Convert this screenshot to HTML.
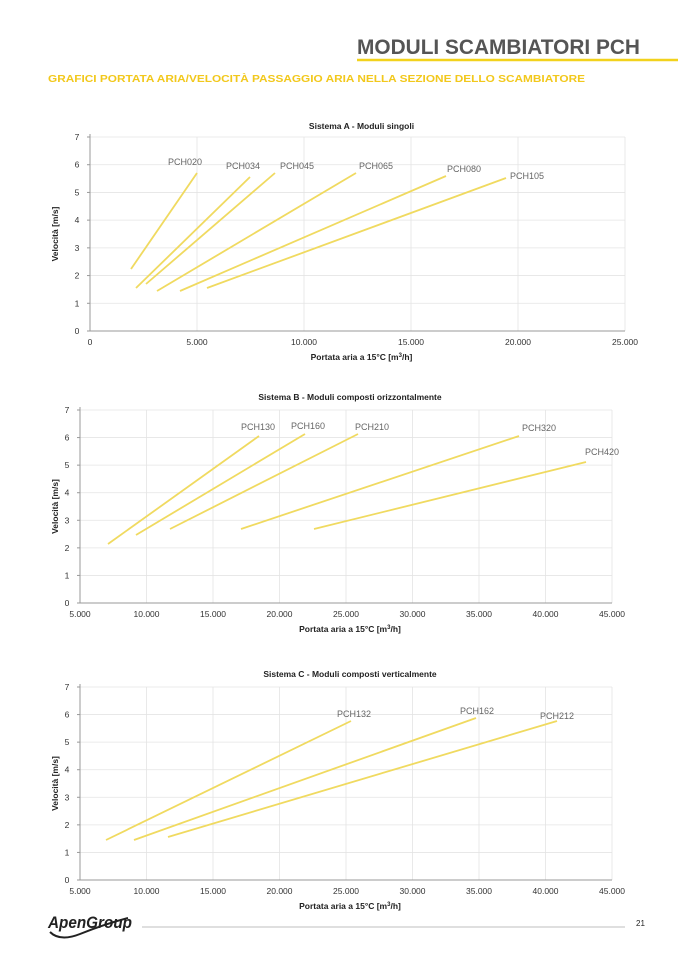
<!DOCTYPE html>
<html><head><meta charset="utf-8"><style>
html,body{margin:0;padding:0;background:#fff}
body{width:678px;height:959px;overflow:hidden}
svg{display:block;font-family:"Liberation Sans",sans-serif}
</style></head><body>
<svg id="s" width="678" height="959" viewBox="0 0 678 959" xmlns="http://www.w3.org/2000/svg">
<text x="640" y="54" text-anchor="end" font-size="21" font-weight="bold" fill="#555" textLength="283" lengthAdjust="spacingAndGlyphs">MODULI SCAMBIATORI PCH</text>
<line x1="357" y1="60" x2="678" y2="60" stroke="#f2d21c" stroke-width="2.5"/>
<text x="48" y="82" font-size="10.5" font-weight="bold" fill="#f2c81c" textLength="537" lengthAdjust="spacingAndGlyphs">GRAFICI PORTATA ARIA/VELOCITÀ PASSAGGIO ARIA NELLA SEZIONE DELLO SCAMBIATORE</text>
<text x="48" y="928" font-size="17" font-weight="bold" fill="#222" font-style="italic" textLength="84" lengthAdjust="spacingAndGlyphs">ApenGroup</text>
<path d="M50 932 Q60 942 80 934 Q105 924 128 918" stroke="#222" stroke-width="2" fill="none"/>
<line x1="142" y1="927" x2="625" y2="927" stroke="#aaa" stroke-width="0.8"/>
<text x="636" y="926" font-size="8" fill="#222">21</text>
</svg>
<script>
const s=document.getElementById('s');const NS='http://www.w3.org/2000/svg';
function el(t,a,txt){const e=document.createElementNS(NS,t);for(const k in a)e.setAttribute(k,a[k]);if(txt!==undefined)e.textContent=txt;s.appendChild(e);return e;}
function chart(o){
 const {x0,x1,y0,y7,xt,title,ty,lines,labels}=o;
 const n=xt.length-1;
 for(let i=1;i<=7;i++){const y=y0-(y0-y7)*i/7;el('line',{x1:x0,x2:x1,y1:y,y2:y,stroke:'#e4e4e4','stroke-width':0.8});}
 for(let i=1;i<=n;i++){const x=x0+(x1-x0)*i/n;el('line',{x1:x,x2:x,y1:y7,y2:y0,stroke:'#e4e4e4','stroke-width':0.8});}
 el('line',{x1:x0,x2:x0,y1:y7-3,y2:y0,stroke:'#999','stroke-width':1});
 el('line',{x1:x0,x2:x1,y1:y0,y2:y0,stroke:'#999','stroke-width':1});
 for(let i=0;i<=7;i++){const y=y0-(y0-y7)*i/7;el('line',{x1:x0-3,x2:x0,y1:y,y2:y,stroke:'#999'});el('text',{x:x0-13,y:y+3,'font-size':8.5,fill:'#333','text-anchor':'middle'},String(i));}
 xt.forEach((t,i)=>{const x=x0+(x1-x0)*i/n;el('text',{x:x,y:y0+14,'font-size':8.5,fill:'#333','text-anchor':'middle'},t);});
 el('text',{x:(x0+x1)/2+4,y:ty,'font-size':8.5,'font-weight':'bold',fill:'#222','text-anchor':'middle'},title);
 const xlab=el('text',{x:(x0+x1)/2+4,y:y0+29,'font-size':8.5,'font-weight':'bold',fill:'#222','text-anchor':'middle'},'Portata aria a 15°C [m');
 const ts=document.createElementNS(NS,'tspan');ts.setAttribute('dy',-3);ts.setAttribute('font-size',6);ts.textContent='3';xlab.appendChild(ts);
 const ts2=document.createElementNS(NS,'tspan');ts2.setAttribute('dy',3);ts2.textContent='/h]';xlab.appendChild(ts2);
 const cy=(y0+y7)/2;
 el('text',{x:58,y:cy,'font-size':8.5,'font-weight':'bold',fill:'#222','text-anchor':'middle',transform:`rotate(-90 58 ${cy})`},'Velocità  [m/s]');
 lines.forEach(l=>el('line',{x1:l[0],y1:l[1],x2:l[2],y2:l[3],stroke:'#f0da60','stroke-width':1.8}));
 labels.forEach(l=>el('text',{x:l[1],y:l[2],'font-size':9,fill:'#666'},l[0]));
}
chart({x0:90,x1:625,y0:331,y7:137,xt:['0','5.000','10.000','15.000','20.000','25.000'],title:'Sistema A - Moduli singoli',ty:129,
 lines:[[131,269,197,173],[136,288,250,177],[146,284,275,173],[157,291,356,173],[180,291,446,176],[207,288,506,178]],
 labels:[['PCH020',168,165],['PCH034',226,169],['PCH045',280,169],['PCH065',359,169],['PCH080',447,172],['PCH105',510,179]]});
chart({x0:80,x1:612,y0:603,y7:410,xt:['5.000','10.000','15.000','20.000','25.000','30.000','35.000','40.000','45.000'],title:'Sistema B - Moduli composti orizzontalmente',ty:400,
 lines:[[108,544,259,436],[136,535,305,434],[170,529,358,434],[241,529,519,436],[314,529,586,462]],
 labels:[['PCH130',241,430],['PCH160',291,429],['PCH210',355,430],['PCH320',522,431],['PCH420',585,455]]});
chart({x0:80,x1:612,y0:880,y7:687,xt:['5.000','10.000','15.000','20.000','25.000','30.000','35.000','40.000','45.000'],title:'Sistema C - Moduli composti verticalmente',ty:677,
 lines:[[106,840,351,721],[134,840,476,718],[168,837,557,721]],
 labels:[['PCH132',337,717],['PCH162',460,714],['PCH212',540,719]]});
</script>
</body></html>
